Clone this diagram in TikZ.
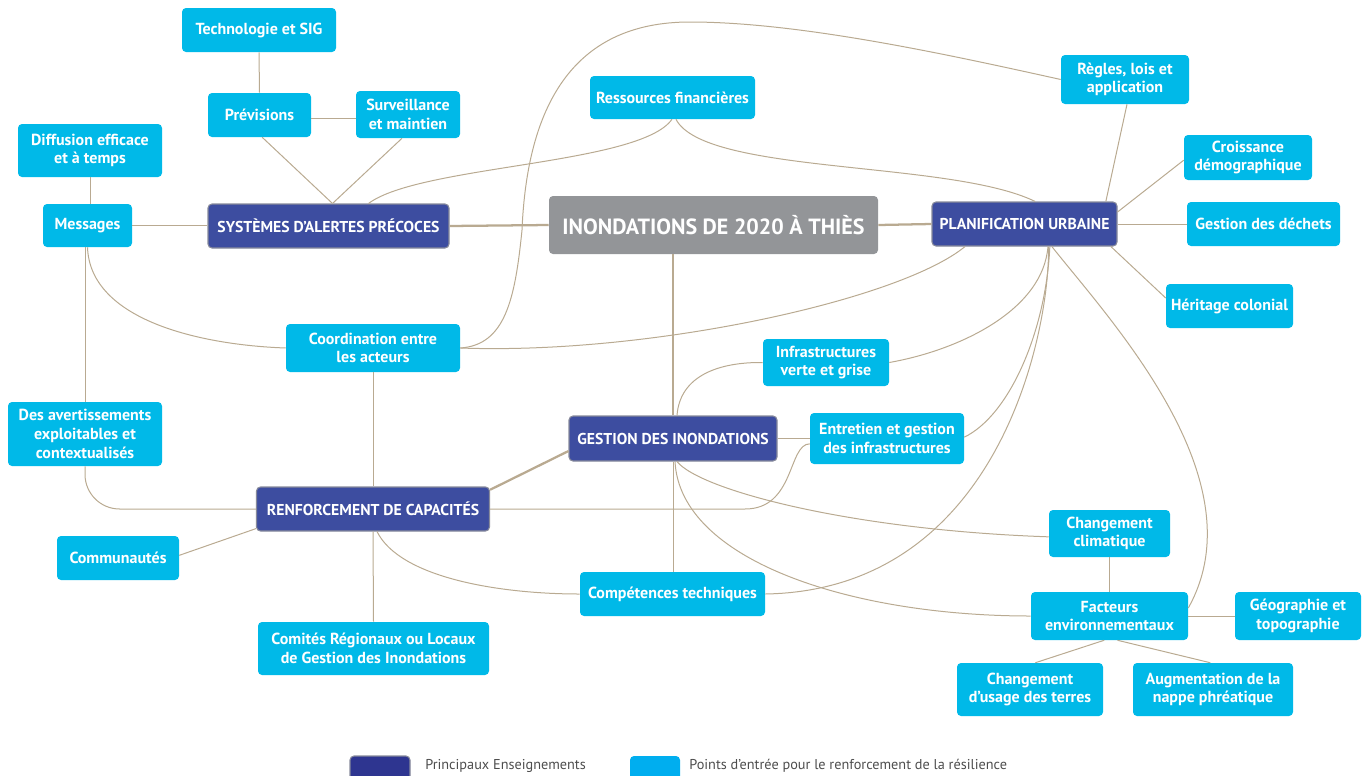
\documentclass[tikz,border=0pt]{standalone}
\usepackage{fontspec}
\setmainfont{PT Sans}
\definecolor{cy}{RGB}{0,185,232}
\definecolor{db}{RGB}{61,77,160}
\definecolor{dbb}{RGB}{135,138,155}
\definecolor{gt}{RGB}{147,149,152}
\definecolor{ln}{RGB}{185,170,145}
\definecolor{legdark}{RGB}{46,53,144}
\definecolor{leglight}{RGB}{0,174,239}
\definecolor{legtext}{RGB}{77,77,77}
\begin{document}
\begin{tikzpicture}[x=0.75pt,y=-0.75pt,
  sz/.style 2 args={minimum width=#1*0.75pt, minimum height=#2*0.75pt},
  entry/.style={fill=cy, rounded corners=3pt, text=white, align=center, inner sep=0pt,
     font=\bfseries\fontsize{12}{14}\selectfont},
  mainbox/.style={fill=db, draw=dbb, line width=0.8pt, rounded corners=3pt, text=white,
     align=center, inner sep=0pt, font=\bfseries\fontsize{11.8}{14}\selectfont},
  titlebox/.style={fill=gt, rounded corners=3pt, text=white, inner sep=0pt,
     font=\bfseries\fontsize{16.5}{18}\selectfont},
  conn/.style={draw=ln, line width=0.75pt},
  thickconn/.style={draw=ln, line width=1.7pt},
  legtxt/.style={text=legtext, anchor=west, inner sep=0pt, font=\fontsize{10.7}{12}\selectfont}
]
\useasboundingbox (0,0) rectangle (1367,775);

% ---------- nodes ----------
\node[entry, sz={154}{44}] (tech) at (259,30) {Technologie et SIG};
\node[entry, sz={103}{44}] (pre) at (259.5,115) {Prévisions};
\node[entry, sz={104}{47}] (sur) at (408,114.5) {Surveillance\\et maintien};
\node[entry, sz={144}{53}] (dif) at (90,150.5) {Diffusion efficace\\et à temps};
\node[entry, sz={89}{43}] (msg) at (87.5,225.5) {Messages};
\node[mainbox, sz={241}{44}] (sap) at (328.5,226) {SYSTÈMES D'ALERTES PRÉCOCES};
\node[entry, sz={165}{43}] (res) at (672.5,97.5) {Ressources financières};
\node[titlebox, sz={329}{58}] (ino) at (713.5,225) {INONDATIONS DE 2020 À THIÈS};
\node[entry, sz={128}{49}] (rul) at (1125,79.5) {Règles, lois et\\application};
\node[entry, sz={128}{45}] (cro) at (1248,157.5) {Croissance\\démographique};
\node[mainbox, sz={185}{44}] (pu) at (1024.5,224) {PLANIFICATION URBAINE};
\node[entry, sz={153}{44}] (gdd) at (1263.5,224) {Gestion des déchets};
\node[entry, sz={127}{44}] (her) at (1229.5,306) {Héritage colonial};
\node[entry, sz={174}{48}] (coord) at (373,348) {Coordination entre\\les acteurs};
\node[entry, sz={154}{64}] (av) at (85,434) {Des avertissements\\exploitables et\\contextualisés};
\node[entry, sz={126}{47}] (inf) at (826,362.5) {Infrastructures\\verte et grise};
\node[mainbox, sz={208}{45}] (gi) at (673,438.5) {GESTION DES INONDATIONS};
\node[entry, sz={154}{51}] (entr) at (887,438.5) {Entretien et gestion\\des infrastructures};
\node[mainbox, sz={233}{44}] (rc) at (373,509) {RENFORCEMENT DE CAPACITÉS};
\node[entry, sz={122}{44}] (com) at (118,558) {Communautés};
\node[entry, sz={185}{44}] (comp) at (672.5,594) {Compétences techniques};
\node[entry, sz={231}{53}] (cri) at (373.5,648.5) {Comités Régionaux ou Locaux\\de Gestion des Inondations};
\node[entry, sz={121}{47}] (cc) at (1109.5,533.5) {Changement\\climatique};
\node[entry, sz={157}{48}] (fac) at (1109.5,616) {Facteurs\\environnementaux};
\node[entry, sz={126}{48}] (geo) at (1298,616) {Géographie et\\topographie};
\node[entry, sz={146}{53}] (cut) at (1030,689.5) {Changement\\d'usage des terres};
\node[entry, sz={160}{53}] (aug) at (1213,689.5) {Augmentation de la\\nappe phréatique};

% ---------- legend ----------
\begin{scope}
\clip (0,0) rectangle (1367,775);
\node[fill=legdark, draw=dbb, line width=0.8pt, rounded corners=3pt, sz={60}{30}, inner sep=0pt] (l1) at (380,771) {};
\node[fill=leglight, rounded corners=3pt, sz={50}{30}, inner sep=0pt] (l2) at (655,771) {};
\end{scope}
\node[legtxt] (t1) at (425,765.5) {Principaux Enseignements};
\node[legtxt] (t2) at (689,765.5) {Points d'entrée pour le renforcement de la résilience};

% ---------- thick connectors ----------
\path[thickconn] (sap.east) -- (ino.west);
\path[thickconn] (ino.east) -- (pu.west);
\path[thickconn] (gi.north) -- (gi.north |- ino.south);
\path[thickconn] ([yshift=-9.4pt]gi.west) -- ([yshift=-2.5pt]rc.north east);

% ---------- thin connectors ----------
\path[conn] (tech.south) -- (pre.north);
\path[conn] ([yshift=-2.5pt]pre.east) -- ([yshift=-2.5pt]pre.east -| sur.west);
\path[conn] ([xshift=2pt]pre.south) -- ([xshift=3pt]sap.north);
\path[conn] ([xshift=-4.5pt]sur.south) -- ([xshift=3pt]sap.north);
\path[conn] (dif.south) -- (dif.south |- msg.north);
\path[conn] (msg.east) -- (msg.east -| sap.west);
% SAP -> Ressources
\path[conn] ([xshift=30pt]sap.north) .. controls (420,165) and (640,165) .. ([xshift=-0.4pt]res.south);
% Ressources -> PU
\path[conn] ([xshift=2.6pt]res.south) .. controls (705,175) and (950,160) .. ([xshift=8pt]pu.north);
% Coordination -> Regles (big loop)
\path[conn] (coord.east) .. controls (505,345) and (515,300) .. (522,230)
   .. controls (527,110) and (570,22) .. (690,22)
   .. controls (800,22) and (950,55) .. (rul.west);
% Coordination -> PU
\path[conn] (coord.east) .. controls (650,355) and (900,300) .. ([xshift=-44.6pt]pu.south);
% Messages -> Coordination
\path[conn] (msg.south) .. controls (90,320) and (200,345) .. (coord.west);
% Messages -> avertissements
\path[conn] (av.north) -- (av.north |- msg.south);
% avertissements -> RC
\path[conn, rounded corners=26pt] (av.south) |- (rc.west);
% Coordination -> RC
\path[conn] (coord.south) -- (rc.north);
% RC -> Communautes
\path[conn] ([yshift=2.2pt]rc.south west) -- ([yshift=2pt]com.east);
% RC -> Comites
\path[conn] (rc.south) -- (cri.north);
% RC -> Competences
\path[conn] ([xshift=3pt]rc.south) .. controls (400,578) and (500,594) .. (comp.west);
% RC -> Entretien
\path[conn] (rc.east) -- (745,509) .. controls (795,509) and (788,444) .. ([yshift=-4pt]entr.west);
% GI -> Entretien
\path[conn] (gi.east) -- (entr.west);
% GI -> Infrastructures
\path[conn] ([xshift=3pt]gi.north) .. controls (680,375) and (720,362) .. (inf.west);
% Infrastructures -> PU
\path[conn] (inf.east) .. controls (960,350) and (1043,310) .. ([xshift=17.6pt]pu.south);
% Entretien -> PU
\path[conn] ([yshift=1pt]entr.east) .. controls (1010,415) and (1046,330) .. ([xshift=19pt]pu.south);
% Competences -> PU
\path[conn] (comp.east) .. controls (1000,590) and (1050,330) .. ([xshift=18pt]pu.south);
% PU -> Facteurs
\path[conn] ([xshift=20.5pt]pu.south) .. controls (1110,320) and (1260,480) .. ([yshift=6pt]fac.east);
% GI -> Changement climatique
\path[conn] ([xshift=3pt]gi.south) .. controls (700,490) and (850,530) .. ([yshift=-2.5pt]cc.west);
% GI -> Facteurs
\path[conn] ([xshift=1.5pt]gi.south) .. controls (680,560) and (850,616) .. (fac.west);
% GI -> Competences
\path[conn] (gi.south) -- (gi.south |- comp.north);
% PU satellites
\path[conn] ([xshift=61pt]pu.north) -- ([xshift=1.5pt]rul.south);
\path[conn] ([yshift=9pt]pu.east) -- ([yshift=-2pt]cro.west);
\path[conn] (pu.east) -- (pu.east -| gdd.west);
\path[conn] ([xshift=-5pt]pu.south east) -- ([yshift=6pt]her.west);
% Facteurs satellites
\path[conn] (cc.south) -- (fac.north);
\path[conn] (fac.east) -- (fac.east -| geo.west);
\path[conn] ([xshift=-4pt]fac.south) -- ([xshift=4pt]cut.north);
\path[conn] ([xshift=6pt]fac.south) -- ([xshift=-2pt]aug.north);
\end{tikzpicture}
\end{document}
